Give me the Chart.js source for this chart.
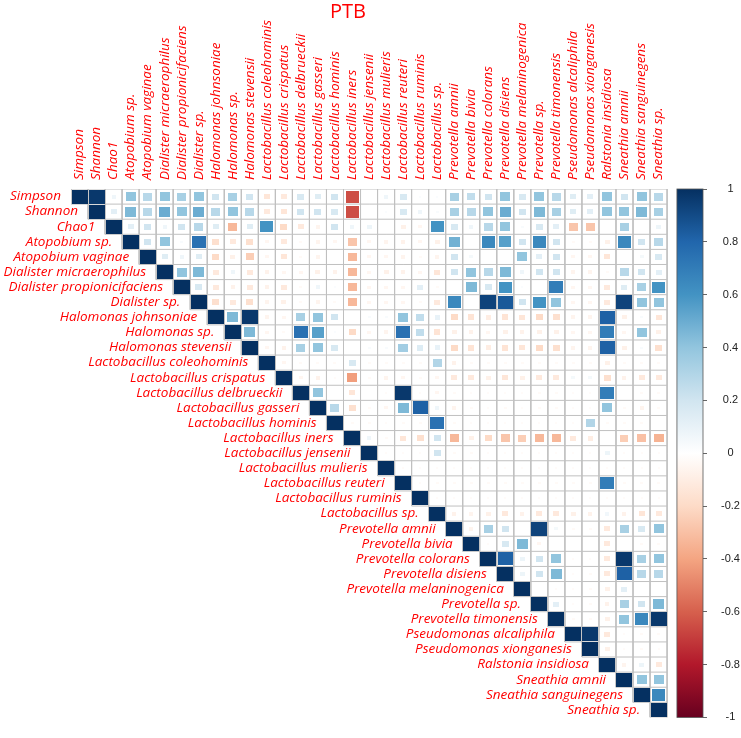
<!DOCTYPE html>
<html>
<head>
<meta charset="utf-8">
<script src="https://cdn.jsdelivr.net/npm/chart.js@4/dist/chart.umd.min.js"></script>
<style>
  html, body { margin: 0; padding: 0; background: #fff; }
</style>
</head>
<body>
<canvas id="corr" width="741" height="738"></canvas>
<script>
// PTB correlatiematrix (bovenste driehoek), in de stijl van corrplot method="square".
var TAXA = [
  'Simpson', 'Shannon', 'Chao1', 'Atopobium sp.', 'Atopobium vaginae',
  'Dialister micraerophilus', 'Dialister propionicifaciens', 'Dialister sp.',
  'Halomonas johnsoniae', 'Halomonas sp.', 'Halomonas stevensii',
  'Lactobacillus coleohominis', 'Lactobacillus crispatus', 'Lactobacillus delbrueckii',
  'Lactobacillus gasseri', 'Lactobacillus hominis', 'Lactobacillus iners',
  'Lactobacillus jensenii', 'Lactobacillus mulieris', 'Lactobacillus reuteri',
  'Lactobacillus ruminis', 'Lactobacillus sp.', 'Prevotella amnii', 'Prevotella bivia',
  'Prevotella colorans', 'Prevotella disiens', 'Prevotella melaninogenica',
  'Prevotella sp.', 'Prevotella timonensis', 'Pseudomonas alcaliphila',
  'Pseudomonas xionganesis', 'Ralstonia insidiosa', 'Sneathia amnii',
  'Sneathia sanguinegens', 'Sneathia sp.'
];

// per rij i: r-waarden voor kolommen i+1 .. 34 (diagonaal = 1)
var UPPER = [
  [0.97,0.07,0.4,0.28,0.4,0.33,0.4,0.2,0.33,0.2,-0.14,-0.12,0.17,0.14,0.2,-0.65,0,0.07,0.17,0.02,0.02,0.33,0.25,0.2,0.4,0.17,0.4,0.28,0.14,0.12,0.4,0.2,0.4,0.28],
  [0.12,0.45,0.28,0.5,0.4,0.5,0.28,0.4,0.28,-0.12,-0.14,0.2,0.2,0.17,-0.65,0,0.02,0.17,0.07,0.03,0.33,0.28,0.4,0.5,0.2,0.45,0.33,0.14,0.12,0.4,0.4,0.45,0.33],
  [0.12,0.2,0.07,0.2,0.28,0.14,-0.33,0.14,0.6,-0.2,-0.12,-0.06,0.2,0.07,0.08,0,-0.08,-0.05,0.6,0.17,0.07,0.28,0.4,0.03,0.17,0.12,-0.28,-0.28,0,0.33,0,0.08],
  [0.2,0.4,0.03,0.75,-0.17,-0.12,-0.17,-0.05,-0.12,-0.03,-0.06,-0.05,-0.28,-0.05,-0.06,-0.07,-0.05,-0.08,0.48,0,0.65,0.55,0.2,0.65,0.2,-0.03,-0.03,-0.08,0.65,0.2,0.28],
  [0.14,0.07,0.14,-0.2,-0.08,-0.25,-0.05,-0.14,-0.03,-0.06,0,-0.33,-0.05,-0.05,-0.06,-0.03,-0.06,0.2,0.05,0,0,0.4,0.12,0.2,-0.05,-0.05,-0.14,0,0.05,0.17],
  [0.4,0.45,-0.12,0.07,-0.12,-0.07,-0.05,-0.05,-0.08,-0.07,-0.33,-0.05,-0.08,-0.07,-0.05,-0.14,0.2,0.4,0.28,0.45,0.07,0.2,0.2,-0.06,-0.06,-0.03,0.28,0.2,0.12],
  [0.17,-0.12,-0.07,-0.12,-0.07,-0.12,-0.03,0.07,0.02,-0.33,-0.05,-0.05,-0.05,0.12,-0.03,0,0.45,0.17,0.6,0.02,0,0.7,-0.05,-0.05,-0.12,0.14,0.33,0.6],
  [-0.17,-0.12,-0.17,-0.06,-0.08,-0.03,-0.06,-0.03,-0.33,-0.05,-0.05,-0.05,-0.03,-0.12,0.65,0,0.93,0.85,0.2,0.6,0.4,-0.05,-0.05,-0.12,0.93,0.4,0.4],
  [0.45,0.97,-0.06,-0.05,0.33,0.4,0.2,0,0.03,0.03,0.4,0.25,0.1,-0.2,-0.15,-0.1,-0.15,-0.14,-0.2,-0.17,-0.06,-0.06,0.82,-0.08,0.03,-0.14],
  [0.45,-0.05,-0.03,0.75,0.55,0.02,-0.2,-0.05,-0.06,0.75,0.25,-0.15,-0.08,-0.07,-0.05,-0.08,-0.07,-0.08,-0.08,-0.05,-0.05,0.7,-0.05,0.4,-0.08],
  [-0.05,-0.07,0.33,0.4,0.17,0,0.03,0.03,0.35,0.15,0.1,-0.2,-0.15,-0.1,-0.15,-0.14,-0.2,-0.17,-0.06,-0.06,0.82,-0.08,0.03,-0.17],
  [-0.05,-0.03,-0.03,-0.03,0.17,-0.03,-0.03,-0.03,-0.03,0.3,-0.07,-0.03,-0.03,-0.03,-0.03,-0.03,-0.03,-0.03,-0.03,-0.08,-0.03,-0.03,-0.03],
  [-0.05,-0.07,-0.02,-0.42,-0.03,-0.06,-0.05,-0.03,-0.05,-0.12,-0.12,-0.08,-0.14,-0.08,-0.12,-0.12,0.05,0.05,-0.17,-0.07,-0.12,-0.12],
  [0.4,0,-0.14,0,-0.02,0.97,-0.02,-0.05,-0.03,-0.02,-0.02,-0.02,-0.02,-0.03,-0.03,-0.02,-0.02,0.7,0,-0.03,-0.03],
  [0.28,-0.17,-0.03,-0.05,0.45,0.82,0.07,-0.06,-0.03,-0.02,-0.03,-0.02,-0.03,-0.03,-0.02,-0.02,0.4,-0.03,-0.06,-0.03],
  [-0.03,-0.03,-0.02,-0.03,-0.03,0.75,-0.03,-0.02,-0.02,-0.02,-0.02,-0.02,-0.02,-0.02,0.3,-0.03,-0.03,-0.03],
  [0.07,-0.03,-0.14,-0.17,0.2,-0.33,-0.08,-0.2,-0.28,-0.25,-0.33,-0.33,-0.12,-0.1,0,-0.25,-0.3,-0.35],
  [-0.02,-0.02,-0.02,0.2,-0.03,-0.03,-0.02,-0.02,-0.02,-0.02,-0.02,-0.02,-0.02,0.08,-0.02,-0.02,-0.02],
  [-0.02,-0.02,-0.02,-0.02,-0.02,-0.02,-0.02,-0.02,-0.02,-0.02,-0.02,-0.02,-0.02,-0.02,-0.02,-0.02],
  [-0.02,-0.03,-0.03,-0.03,-0.03,-0.03,-0.03,-0.03,-0.03,-0.03,-0.03,0.7,-0.03,-0.03,-0.03],
  [-0.02,-0.02,-0.02,-0.02,-0.02,-0.02,-0.02,-0.02,-0.02,-0.02,-0.02,-0.02,-0.02,-0.02],
  [-0.07,-0.06,-0.08,-0.12,-0.07,-0.12,-0.12,-0.08,-0.07,0.06,-0.07,-0.14,-0.12],
  [-0.06,0.33,0.2,0,0.93,0.05,-0.03,-0.03,-0.12,0.33,0.17,0.4],
  [-0.02,0.17,0.45,-0.05,0,0,0,-0.12,0,-0.03,-0.03],
  [0.82,0.08,0.2,0.4,-0.02,-0.02,-0.12,0.97,0.33,0.4],
  [0.08,0.2,0.45,-0.02,-0.03,-0.12,0.82,0.28,0.28],
  [0,-0.02,-0.02,-0.03,-0.08,0.12,0,0],
  [0.12,-0.02,-0.03,-0.07,0.33,0.2,0.45],
  [-0.03,-0.03,-0.08,0.4,0.65,0.97],
  [0.97,-0.12,-0.02,-0.03,-0.03],
  [-0.08,-0.02,-0.03,-0.02],
  [-0.06,0.08,-0.12],
  [0.4,0.4],
  [0.65],
  []
];

var CB_TICKS = [-1, -0.8, -0.6, -0.4, -0.2, 0, 0.2, 0.4, 0.6, 0.8, 1];
var CB_LABELS = ['-1', '-0.8', '-0.6', '-0.4', '-0.2', '0', '0.2', '0.4', '0.6', '0.8', '1'];

// RdBu zoals corrplot COL2('RdBu')
var STOPS = ['#67001F','#B2182B','#D6604D','#F4A582','#FDDBC7','#FFFFFF','#D1E5F0','#92C5DE','#4393C3','#2166AC','#053061'];

function hex(h) { return [parseInt(h.substr(1,2),16), parseInt(h.substr(3,2),16), parseInt(h.substr(5,2),16)]; }
function colorFor(v) {
  var t = (v + 1) / 2 * 10;
  var i = Math.min(9, Math.max(0, Math.floor(t)));
  var f = t - i;
  var a = hex(STOPS[i]), b = hex(STOPS[i + 1]);
  return 'rgb(' + [0,1,2].map(function (k) { return Math.round(a[k] + (b[k] - a[k]) * f); }).join(',') + ')';
}

var cache = {};
function box(w, h, fill) {
  var key = w + '|' + h + '|' + fill;
  if (cache[key]) return cache[key];
  var c = document.createElement('canvas');
  c.width = w; c.height = h;
  var g = c.getContext('2d');
  g.fillStyle = fill;
  g.fillRect(0, 0, w, h);
  cache[key] = c;
  return c;
}

var N = TAXA.length;

// vierkantjes (incl. diagonaal)
var cells = [];
for (var i = 0; i < N; i++) {
  cells.push({ x: i, y: i, v: 1 });
  UPPER[i].forEach(function (v, k) {
    if (Math.abs(v) > 0.004) cells.push({ x: i + 1 + k, y: i, v: v });
  });
}

// rasterlijnen van de bovenste driehoek
var gridLines = [];
for (var k = 0; k <= N; k++) {
  var x0 = k === 0 ? -0.5 : k - 1.5;
  gridLines.push({ x: x0, y: k - 0.5 }, { x: N - 0.5, y: k - 0.5 }, { x: 0, y: null });
  var y1 = k === N ? N - 0.5 : k + 0.5;
  gridLines.push({ x: k - 0.5, y: -0.5 }, { x: k - 0.5, y: y1 }, { x: 0, y: null });
}

var labelsPlugin = {
  id: 'corrLabels',
  beforeDatasetsDraw: function (chart) {
    // kleurenbalk
    var ctx = chart.ctx, x = chart.scales.x, cb = chart.scales.cb;
    var left = x.getPixelForValue(35.08), right = chart.chartArea.right;
    var top = cb.getPixelForValue(1), bottom = cb.getPixelForValue(-1);
    var grad = ctx.createLinearGradient(0, bottom, 0, top);
    STOPS.forEach(function (c, i) { grad.addColorStop(i / 10, c); });
    ctx.save();
    ctx.fillStyle = grad;
    ctx.fillRect(left, top, right - left, bottom - top);
    ctx.strokeStyle = '#555';
    ctx.lineWidth = 0.8;
    ctx.strokeRect(left, top, right - left, bottom - top);
    ctx.restore();
  },
  afterDraw: function (chart) {
    var ctx = chart.ctx, x = chart.scales.x, y = chart.scales.y;
    ctx.save();
    ctx.fillStyle = '#ff0000';
    ctx.font = 'italic 13.5px "Open Sans"';
    ctx.textBaseline = 'middle';
    ctx.textAlign = 'right';
    TAXA.forEach(function (t, i) {
      ctx.fillText(t, x.getPixelForValue(i - 0.5) - 10, y.getPixelForValue(i));
    });
    ctx.textAlign = 'left';
    TAXA.forEach(function (t, j) {
      ctx.save();
      ctx.translate(x.getPixelForValue(j), chart.chartArea.top - 9);
      ctx.rotate(-Math.PI / 2);
      ctx.fillText(t, 0, 0);
      ctx.restore();
    });
    ctx.font = '20px "Open Sans"';
    ctx.textAlign = 'center';
    ctx.textBaseline = 'alphabetic';
    ctx.fillText('PTB', 348, 18);
    ctx.restore();
  }
};

new Chart(document.getElementById('corr'), {
  type: 'scatter',
  data: {
    datasets: [
      {
        label: 'grid',
        data: gridLines,
        showLine: true,
        spanGaps: false,
        borderColor: '#c0c0c0',
        borderWidth: 1,
        pointRadius: 0,
        order: 2
      },
      {
        label: 'r',
        data: cells,
        pointRadius: 5,
        order: 1,
        pointStyle: function (c) {
          var p = c.raw;
          if (!p || p.v === undefined) return 'rect';
          var xs = c.chart.scales.x, ys = c.chart.scales.y;
          var cw = Math.abs(xs.getPixelForValue(1) - xs.getPixelForValue(0));
          var ch = Math.abs(ys.getPixelForValue(1) - ys.getPixelForValue(0));
          var s = Math.sqrt(Math.abs(p.v)) * 0.95;
          var w = Math.max(1, Math.round(cw * s));
          var h = Math.max(1, Math.round(ch * s));
          return box(w, h, colorFor(p.v));
        }
      }
    ]
  },
  options: {
    responsive: false,
    animation: false,
    events: [],
    layout: { padding: { top: 189, left: 71, right: 0, bottom: 5 } },
    plugins: { legend: { display: false }, tooltip: { enabled: false } },
    scales: {
      x: { type: 'linear', min: -0.5, max: 36.61, display: false },
      y: { type: 'linear', min: -0.5, max: 34.5, reverse: true, display: false },
      cb: {
        axis: 'y',
        type: 'linear',
        position: 'right',
        min: -1,
        max: 1,
        afterBuildTicks: function (s) { s.ticks = CB_TICKS.map(function (v) { return { value: v }; }); },
        afterFit: function (s) { s.width = 38; },
        grid: { drawOnChartArea: false, drawTicks: true, tickLength: 4, color: '#666' },
        border: { display: false },
        ticks: {
          padding: 14,
          crossAlign: 'center',
          color: '#222',
          font: { family: 'Liberation Sans', size: 11 },
          callback: function (v, i) { return CB_LABELS[i]; }
        }
      }
    }
  },
  plugins: [labelsPlugin]
});
</script>
</body>
</html>
